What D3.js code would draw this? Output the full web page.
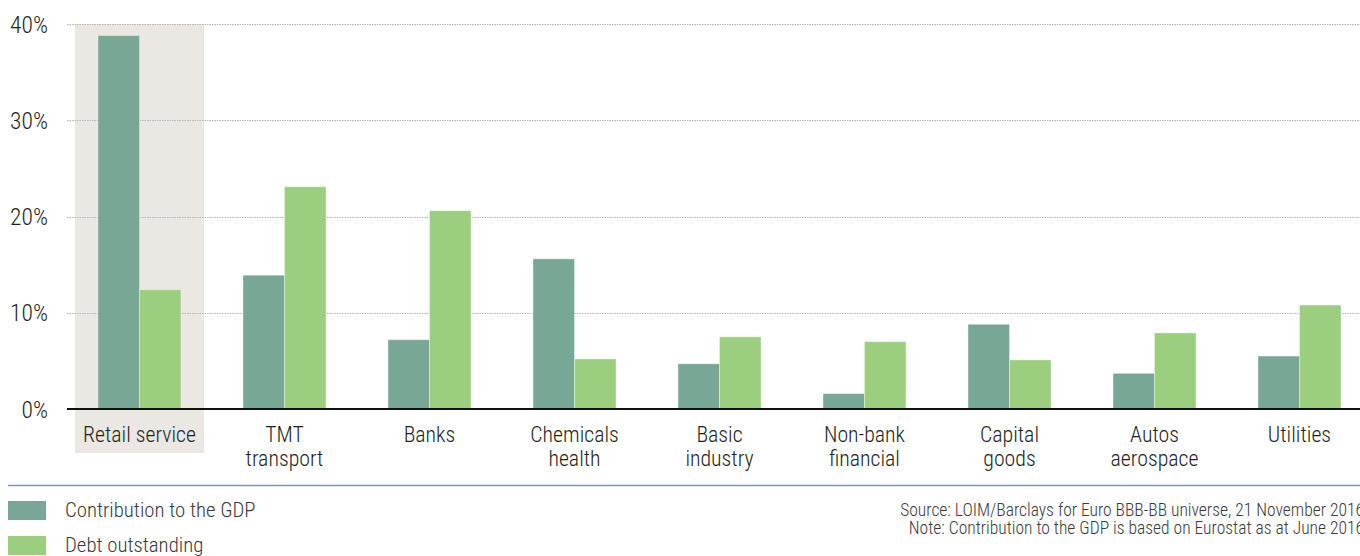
<!DOCTYPE html>
<html>
<head>
<meta charset="utf-8">
<script src="https://cdn.jsdelivr.net/npm/d3@7"></script>
<style>
  html, body { margin: 0; padding: 0; background: #fff; }
  svg { display: block; }
  text { font-family: "Roboto Condensed", Roboto, "Liberation Sans", Arial, sans-serif; font-weight: 300; fill: #231f20; }
</style>
</head>
<body>
<svg id="chart" width="1360" height="556"></svg>
<script>
// Sector categories (label lines)
const categories = ["Retail service", "TMT transport", "Banks", "Chemicals health", "Basic industry",
                    "Non-bank financial", "Capital goods", "Autos aerospace", "Utilities"];
const categoryLines = [["Retail service"], ["TMT", "transport"], ["Banks"], ["Chemicals", "health"],
                       ["Basic", "industry"], ["Non-bank", "financial"], ["Capital", "goods"],
                       ["Autos", "aerospace"], ["Utilities"]];

// Series values (%)
const gdpContribution = [38.8, 13.9, 7.2, 15.6, 4.7, 1.6, 8.8, 3.7, 5.5];
const debtOutstanding = [12.4, 23.1, 20.6, 5.2, 7.5, 7.0, 5.1, 7.9, 10.8];

const seriesNames = ["Contribution to the GDP", "Debt outstanding"];
const seriesColors = ["#78a795", "#9bcf7e"];
const yTicks = [0, 10, 20, 30, 40];
const highlighted = "Retail service";

const sourceLines = ["Source: LOIM/Barclays for Euro BBB-BB universe, 21 November 2016",
                     "Note: Contribution to the GDP is based on Eurostat as at June 2016"];

const svg = d3.select("#chart");
const plot = { left: 67, right: 1372, top: 24, bottom: 409 };

const x0 = d3.scaleBand()
  .domain(categories)
  .range([plot.left, plot.right])
  .paddingInner(0.428)
  .paddingOuter(0.214);

const x1 = d3.scaleBand()
  .domain(seriesNames)
  .range([0, x0.bandwidth()])
  .padding(0);

const y = d3.scaleLinear().domain([0, 40]).range([plot.bottom, plot.top]);

// Highlight panel behind the first sector
const hx = x0(highlighted) + x0.bandwidth() / 2;
svg.append("rect")
  .attr("x", hx - 64.5)
  .attr("y", y(40))
  .attr("width", 129)
  .attr("height", 453 - y(40))
  .attr("fill", "#ebe7e2");

// Gridlines
svg.append("g")
  .selectAll("line")
  .data(yTicks.filter(d => d > 0))
  .join("line")
  .attr("x1", plot.left)
  .attr("x2", 1360)
  .attr("y1", d => Math.round(y(d)) + 0.5)
  .attr("y2", d => Math.round(y(d)) + 0.5)
  .attr("stroke", "#b5b5b5")
  .attr("stroke-width", 1)
  .attr("stroke-dasharray", "1.5,1");

// Y axis labels
const yAxis = d3.axisLeft(y).tickValues(yTicks).tickFormat(d => d + "%").tickSize(0).tickPadding(0);
const yg = svg.append("g").attr("transform", "translate(48,0)").call(yAxis);
yg.select(".domain").remove();
yg.selectAll("text")
  .attr("font-size", 23.5)
  .attr("dy", "0.35em")
  .style("font-family", "'Roboto Condensed', Roboto, 'Liberation Sans', Arial, sans-serif")
  .style("font-weight", 300)
  .style("fill", "#231f20");

// Bars
const rows = categories.map((c, i) => ({ cat: c, values: [gdpContribution[i], debtOutstanding[i]] }));
const groups = svg.append("g")
  .selectAll("g")
  .data(rows)
  .join("g")
  .attr("transform", d => `translate(${x0(d.cat)},0)`);

groups.selectAll("rect")
  .data(d => d.values.map((v, k) => ({ key: seriesNames[k], value: v, k })))
  .join("rect")
  .attr("x", d => x1(d.key))
  .attr("y", d => y(d.value))
  .attr("width", x1.bandwidth())
  .attr("height", d => y(0) - y(d.value))
  .attr("fill", d => seriesColors[d.k])
  .attr("stroke", "rgba(255,255,255,0.35)")
  .attr("stroke-width", 1);

// Baseline
svg.append("line")
  .attr("x1", plot.left).attr("x2", 1360)
  .attr("y1", y(0)).attr("y2", y(0))
  .attr("stroke", "#111").attr("stroke-width", 2);

// Category labels
const labels = svg.append("g")
  .selectAll("text")
  .data(categories)
  .join("text")
  .attr("text-anchor", "middle")
  .attr("font-size", 21.8)
  .attr("x", d => x0(d) + x0.bandwidth() / 2)
  .attr("y", 442);
labels.each(function(d, i) {
  d3.select(this).selectAll("tspan")
    .data(categoryLines[i])
    .join("tspan")
    .attr("x", x0(d) + x0.bandwidth() / 2)
    .attr("dy", (t, j) => j === 0 ? 0 : 24)
    .text(t => t);
});

// Separator
svg.append("line")
  .attr("x1", 8).attr("x2", 1360)
  .attr("y1", 485.5).attr("y2", 485.5)
  .attr("stroke", "#7f93c8").attr("stroke-width", 1.5);

// Legend
const legend = svg.append("g")
  .selectAll("g")
  .data(seriesNames)
  .join("g")
  .attr("transform", (d, i) => `translate(8,${501 + i * 35})`);
legend.append("rect")
  .attr("width", 38).attr("height", 19)
  .attr("fill", (d, i) => seriesColors[i]);
legend.append("text")
  .attr("x", 57).attr("y", 16)
  .attr("font-size", 20.8)
  .style("fill", "#3a3a3a")
  .text(d => d);

// Source notes
svg.append("g")
  .selectAll("text")
  .data(sourceLines)
  .join("text")
  .attr("text-anchor", "end")
  .attr("x", 1364)
  .attr("y", (d, i) => 516 + i * 18)
  .attr("font-size", 17.5)
  .style("fill", "#3a3a3a")
  .text(d => d);
</script>
</body>
</html>
